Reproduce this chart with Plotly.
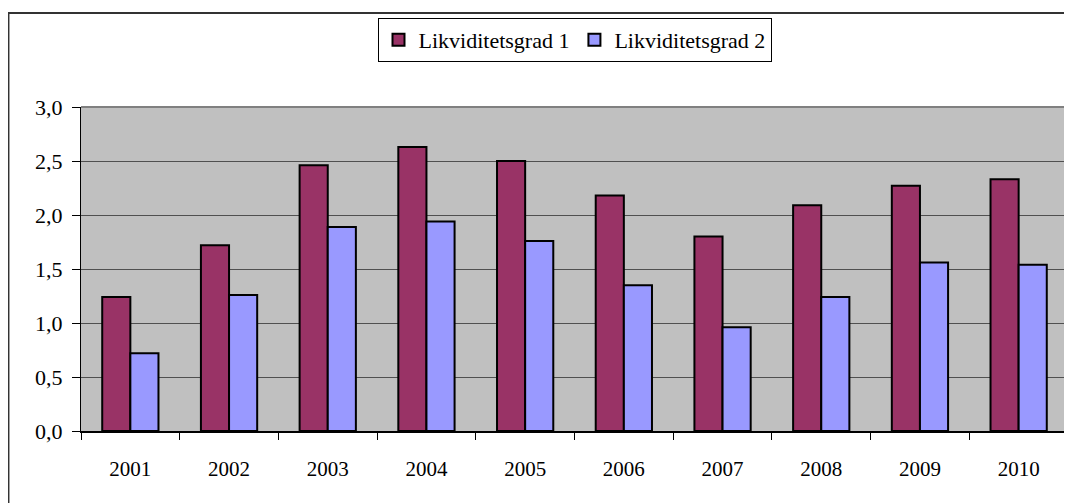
import plotly.graph_objects as go

years = ['2001', '2002', '2003', '2004', '2005', '2006', '2007', '2008', '2009', '2010']
likv1 = [1.24, 1.72, 2.46, 2.63, 2.50, 2.18, 1.80, 2.09, 2.27, 2.33]
likv2 = [0.72, 1.26, 1.89, 1.94, 1.76, 1.35, 0.96, 1.24, 1.56, 1.54]
y_ticks = [0, 0.5, 1.0, 1.5, 2.0, 2.5, 3.0]
y_labels = ['0,0', '0,5', '1,0', '1,5', '2,0', '2,5', '3,0']

font = dict(family='Liberation Serif, Times New Roman, serif', size=21, color='black')

fig = go.Figure()
fig.add_trace(go.Bar(x=years, y=likv1, name='Likviditetsgrad 1',
                     marker=dict(color='#993366', line=dict(color='black', width=2))))
fig.add_trace(go.Bar(x=years, y=likv2, name='Likviditetsgrad 2',
                     marker=dict(color='#9999FF', line=dict(color='black', width=2))))

# page has an 8px body margin, so the figure is a bit smaller than the window
fig.update_layout(
    width=1064, height=495,
    margin=dict(l=73, r=4, t=99, b=72),
    paper_bgcolor='white', plot_bgcolor='#C0C0C0',
    font=font,
    barmode='group', bargap=0.43, bargroupgap=0,
    showlegend=True,
    legend=dict(orientation='h', x=0.5, xanchor='center', y=1.275, yanchor='top',
                bordercolor='black', borderwidth=1, bgcolor='white',
                font=dict(family=font['family'], size=22, color='black'),
                itemwidth=30, traceorder='normal'),
    shapes=[dict(type='rect', xref='paper', yref='paper', x0=-0.0735, x1=1.05, y0=-0.4, y1=1.29,
                 line=dict(color='#333333', width=2), layer='below'),
            dict(type='line', xref='paper', yref='paper', x0=0, x1=1, y0=1, y1=1,
                 line=dict(color='#808080', width=2)),
            dict(type='line', xref='paper', yref='paper', x0=1, x1=1, y0=0, y1=1,
                 line=dict(color='#808080', width=2))],
)

fig.update_xaxes(type='category', tickson='boundaries', ticks='outside', ticklen=7,
                 tickcolor='black', showline=True, linecolor='black', linewidth=2,
                 showgrid=False, ticklabelstandoff=18)
fig.update_yaxes(range=[0, 3.0], tickvals=y_ticks, ticktext=y_labels, ticks='outside',
                 ticklen=8, tickcolor='black', showline=True, linecolor='black', linewidth=1,
                 showgrid=True, gridcolor='#505050', gridwidth=1, zeroline=False,
                 ticklabelstandoff=5, tickfont=dict(size=22))

fig.write_html("out.html")
